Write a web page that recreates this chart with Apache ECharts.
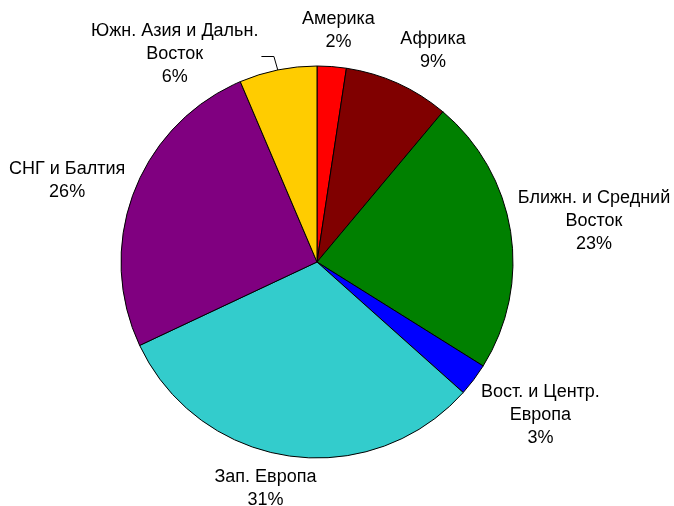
<!DOCTYPE html>
<html>
<head>
<meta charset="utf-8">
<script src="https://cdn.jsdelivr.net/npm/echarts@6/dist/echarts.min.js"></script>
<style>
  html, body { margin: 0; padding: 0; background: #fff; }
  #chart { width: 674px; height: 506px; }
</style>
</head>
<body>
<div id="chart"></div>
<script>
// regions, clockwise from 12 o'clock
var regions = [
  'Америка',
  'Африка',
  'Ближн. и Средний\nВосток',
  'Вост. и Центр.\nЕвропа',
  'Зап. Европа',
  'СНГ и Балтия',
  'Южн. Азия и Дальн.\nВосток'
];
// share of total, % (labels show rounded values)
var shares = [2.4, 8.7, 22.8, 2.7, 31.4, 25.6, 6.4];
var sliceColors = ['#FF0000', '#800000', '#008000', '#0000FF', '#33CCCC', '#800080', '#FFCC00'];

var cx = 317, cy = 262, R = 196;
// label box distance from the rim and small angular nudge (deg); null = leader line
var labelGap = [13, 20, 9, 24, 12, 13, null];
var labelTurn = [0.7, 3.5, -0.9, 0, 3.2, -0.2, -4.5];

var total = shares.reduce(function(s, v) { return s + v; }, 0);
var midAngle = [];
var acc = 0;
shares.forEach(function(v) {
  midAngle.push((acc + v / 2) / total * Math.PI * 2);
  acc += v;
});

var chart = echarts.init(document.getElementById('chart'));
chart.setOption({
  animation: false,
  series: [{
    type: 'pie',
    center: [cx, cy],
    radius: R,
    startAngle: 90,
    clockwise: true,
    avoidLabelOverlap: false,
    percentPrecision: 0,
    itemStyle: { borderColor: '#000', borderWidth: 1 },
    label: {
      show: true,
      position: 'outside',
      formatter: '{b}\n{d}%',
      color: '#000',
      fontFamily: 'Liberation Sans, Arial, sans-serif',
      fontSize: 18,
      lineHeight: 23
    },
    labelLine: { show: false },
    emphasis: { disabled: true },
    data: regions.map(function(name, i) {
      var item = { name: name, value: shares[i], itemStyle: { color: sliceColors[i] } };
      if (labelGap[i] == null) {
        item.labelLine = { show: true, length: 15, length2: 12, lineStyle: { color: '#000', width: 1 } };
      }
      return item;
    }),
    labelLayout: function(params) {
      var i = params.dataIndex;
      var a = midAngle[i] + labelTurn[i] * Math.PI / 180;
      var dx = Math.sin(a), dy = -Math.cos(a);
      var w = params.labelRect.width, h = params.labelRect.height;
      if (labelGap[i] == null) {
        // leader line: rim -> outwards -> horizontal to the label
        var m = midAngle[i];
        var p1 = [cx + Math.sin(m) * (R - 1), cy - Math.cos(m) * (R - 1)];
        var p2 = [p1[0] + dx * 15, p1[1] + dy * 15];
        var p3 = [p2[0] - 12.5, p2[1]];
        return {
          x: p3[0] - 3 - w / 2,
          y: p3[1] - 2,
          align: 'center',
          verticalAlign: 'middle',
          labelLinePoints: [p1, p2, p3]
        };
      }
      var rr = R + labelGap[i];
      return {
        x: cx + dx * rr + dx * w / 2,
        y: cy + dy * rr + dy * h / 2,
        align: 'center',
        verticalAlign: 'middle'
      };
    }
  }]
});
</script>
</body>
</html>
